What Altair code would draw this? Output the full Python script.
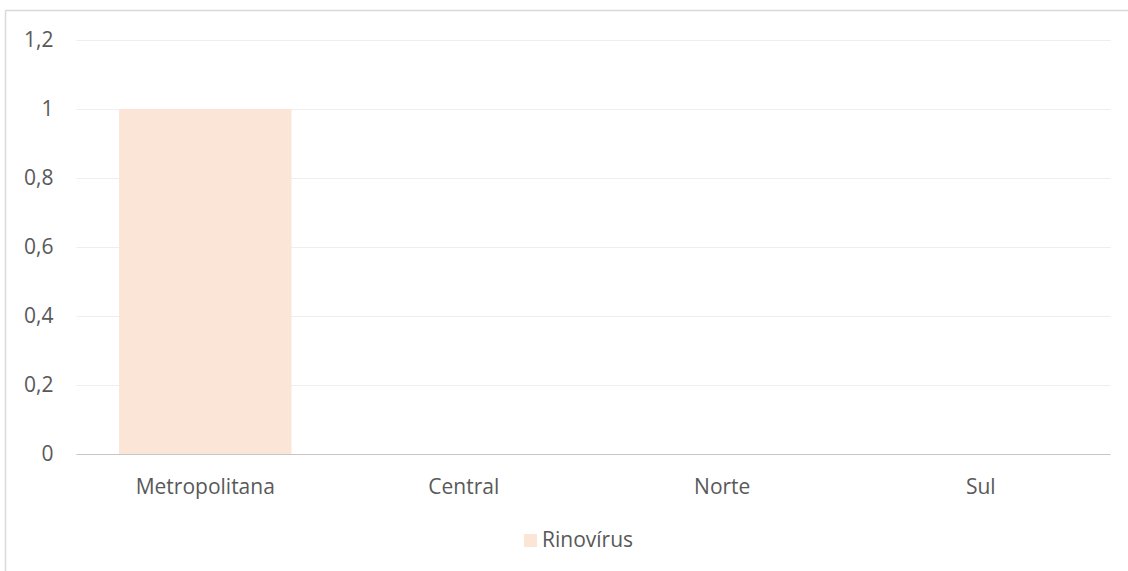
import altair as alt
import pandas as pd

# Regiões e número de casos de Rinovírus
regioes = ["Metropolitana", "Central", "Norte", "Sul"]
casos = [1, 0, 0, 0]
serie = "Rinovírus"
y_ticks = [0, 0.2, 0.4, 0.6, 0.8, 1, 1.2]

FONT = "Open Sans"
TEXT = "#595959"
SIZE = 21

dados = pd.DataFrame({"regiao": regioes, "casos": casos, "serie": [serie] * len(regioes)})

barras = alt.Chart(dados).mark_bar(color="#FBE5D6").encode(
    x=alt.X(
        "regiao:N",
        sort=regioes,
        title=None,
        scale=alt.Scale(paddingInner=0.333, paddingOuter=0.1665),
        axis=alt.Axis(
            labelAngle=0,
            labelFont=FONT,
            labelFontSize=SIZE,
            labelColor=TEXT,
            labelPadding=22,
            ticks=False,
            domainColor="#C6C6C6",
            domainWidth=1.2,
            grid=False,
        ),
    ),
    y=alt.Y(
        "casos:Q",
        title=None,
        scale=alt.Scale(domain=[0, 1.2], nice=False),
        axis=alt.Axis(
            values=y_ticks,
            labelExpr="replace(format(datum.value, '.1~f'), '.', ',')",
            labelFont=FONT,
            labelFontSize=SIZE,
            labelColor=TEXT,
            labelPadding=23,
            ticks=False,
            domain=False,
            gridColor="#EEEEEE",
            gridWidth=1.2,
        ),
    ),
    color=alt.Color(
        "serie:N",
        scale=alt.Scale(domain=[serie], range=["#FBE5D6"]),
        legend=alt.Legend(
            title=None,
            orient="none",
            legendX=444,
            legendY=490,
            symbolType="square",
            symbolSize=169,
            symbolStrokeWidth=0,
            labelFont=FONT,
            labelFontSize=SIZE,
            labelColor=TEXT,
            labelOffset=1,
            padding=0,
        ),
    ),
)

# Moldura da área do gráfico
um = pd.DataFrame({"k": [0]})
moldura_topo = alt.Chart(um).mark_rule(color="#D9D9D9", strokeWidth=1.5).encode(
    x=alt.value(-70.5), x2=alt.value(1200), y=alt.value(-29.5)
)
moldura_esq = alt.Chart(um).mark_rule(color="#D9D9D9", strokeWidth=1.5).encode(
    x=alt.value(-70.5), y=alt.value(-29.5), y2=alt.value(700)
)

chart = (
    alt.layer(barras, moldura_topo, moldura_esq)
    .properties(
        width=1034,
        height=414,
        autosize=alt.AutoSizeParams(type="none"),
        padding={"left": 76, "top": 40, "right": 18, "bottom": 117},
        background="white",
    )
    .configure_view(stroke=None)
)

chart.save("out.html", embed_options={"renderer": "svg", "actions": False})
